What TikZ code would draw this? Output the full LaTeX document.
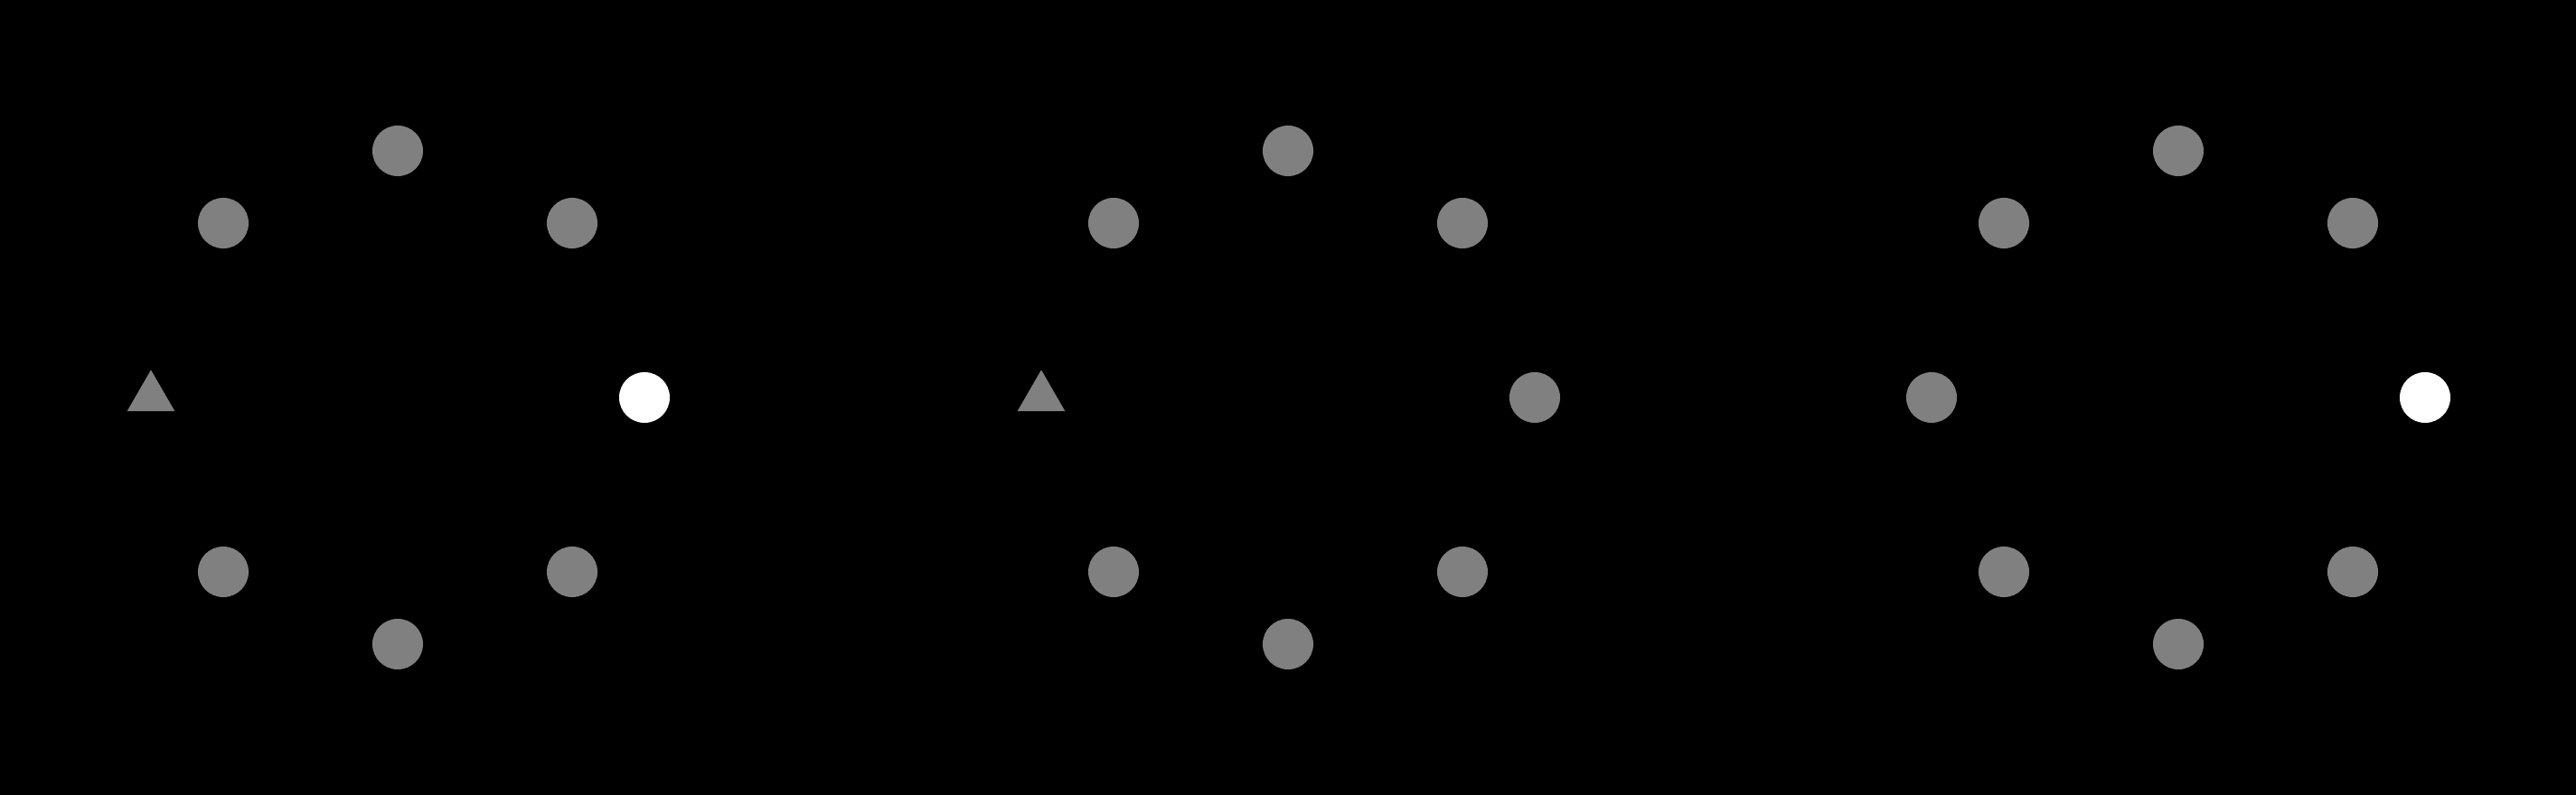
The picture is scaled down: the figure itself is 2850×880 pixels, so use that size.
\documentclass[tikz,border=0pt]{standalone}
\usetikzlibrary{shapes.geometric}
\begin{document}
\begin{tikzpicture}[x=0.01cm,y=-0.01cm,
    pt/.style={circle,fill=gray,draw=none,inner sep=0pt,minimum size=0.56cm},
    hit/.style={pt,fill=white},
    tri/.style={regular polygon,regular polygon sides=3,fill=gray,draw=none,inner sep=0pt,minimum size=0.61cm}]
        \fill[black] (0,0) rectangle (2850,880);
        \useasboundingbox (0,0) rectangle (2850,880);

        \node[pt] (a1) at (440,167) {};
        \node[pt] (a2) at (633,247) {};
        \node[hit] (a3) at (713,440) {};
        \node[pt] (a4) at (633,633) {};
        \node[pt] (a5) at (440,713) {};
        \node[pt] (a6) at (247,633) {};
        \node[tri] (a7) at (167,440) {};
        \node[pt] (a8) at (247,247) {};

        \node[pt] (b1) at (1425,167) {};
        \node[pt] (b2) at (1618,247) {};
        \node[pt] (b3) at (1698,440) {};
        \node[pt] (b4) at (1618,633) {};
        \node[pt] (b5) at (1425,713) {};
        \node[pt] (b6) at (1232,633) {};
        \node[tri] (b7) at (1152,440) {};
        \node[pt] (b8) at (1232,247) {};

        \node[pt] (c1) at (2410,167) {};
        \node[pt] (c2) at (2603,247) {};
        \node[hit] (c3) at (2683,440) {};
        \node[pt] (c4) at (2603,633) {};
        \node[pt] (c5) at (2410,713) {};
        \node[pt] (c6) at (2217,633) {};
        \node[pt] (c7) at (2137,440) {};
        \node[pt] (c8) at (2217,247) {};
    \end{tikzpicture}
\end{document}
